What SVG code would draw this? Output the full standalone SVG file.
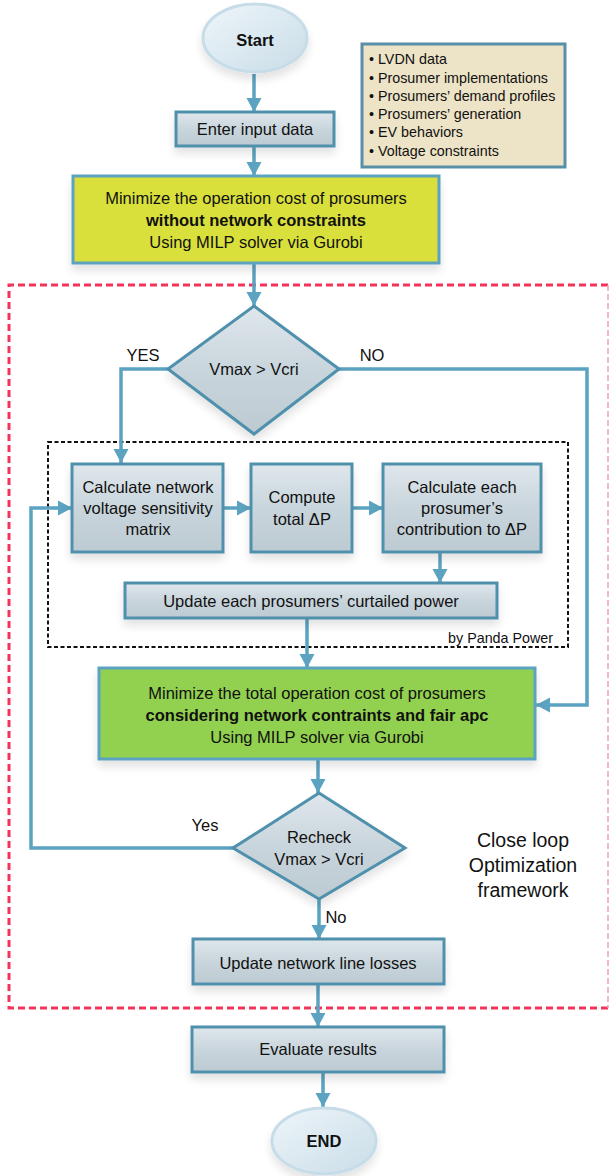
<svg xmlns="http://www.w3.org/2000/svg" width="610" height="1176" viewBox="0 0 610 1176">
<defs>
<linearGradient id="boxg" x1="0" y1="0" x2="0" y2="1">
<stop offset="0" stop-color="#dfe7ec"/><stop offset="0.5" stop-color="#c9d5dc"/><stop offset="1" stop-color="#bccad2"/>
</linearGradient>
<linearGradient id="elg" x1="0" y1="0" x2="1" y2="1">
<stop offset="0" stop-color="#eef5f9"/><stop offset="1" stop-color="#c9dde8"/>
</linearGradient>
<filter id="sh" x="-20%" y="-20%" width="140%" height="160%">
<feGaussianBlur in="SourceAlpha" stdDeviation="5"/>
<feOffset dx="0" dy="6" result="b"/>
<feComponentTransfer><feFuncA type="linear" slope="0.12"/></feComponentTransfer>
<feMerge><feMergeNode/><feMergeNode in="SourceGraphic"/></feMerge>
</filter>
<marker id="ah" markerUnits="userSpaceOnUse" markerWidth="16" markerHeight="16" refX="14" refY="8" orient="auto">
<path d="M0,0.5 L14,8 L0,15.5 z" fill="#5ba3c1"/>
</marker>
</defs>
<style>
.box{fill:url(#boxg);stroke:#4f90ac;stroke-width:3}
.el{fill:url(#elg);stroke:#c6dce8;stroke-width:3}
.t{font-family:"Liberation Sans",Arial,sans-serif;font-size:16.5px;fill:#111;text-anchor:middle}
.b{font-weight:bold}
.s{font-size:14.3px}
.l{font-size:19.5px}
.st{text-anchor:start}
.en{text-anchor:end}
.c{fill:none;stroke:#5ba3c1;stroke-width:3.5}
.ca{fill:none;stroke:#5ba3c1;stroke-width:3.5;marker-end:url(#ah)}
</style>

<!-- frames -->
<g id="closeloop-frame">
<path d="M608,285 L9,285 L9,1008 L608,1008" fill="none" stroke="#f2345a" stroke-width="3" stroke-dasharray="7,4"/>
<line x1="608" y1="285" x2="608" y2="1008" stroke="#f2a3b3" stroke-width="1.5" stroke-dasharray="6,3"/>
</g>
<g id="panda-frame">
<rect x="48" y="442" width="520" height="205" fill="none" stroke="#111" stroke-width="2" stroke-dasharray="4,2.5"/>
<text class="t s en" x="553" y="643">by Panda Power</text>
</g>

<!-- connectors -->
<g id="connectors">
<line class="ca" x1="254" y1="74" x2="254" y2="112"/>
<line class="ca" x1="254" y1="147" x2="254" y2="176"/>
<line class="ca" x1="254" y1="263" x2="254" y2="306"/>
<polyline class="ca" points="168,369 121,369 121,463"/>
<polyline class="ca" points="339,369 587,369 587,705 536,705"/>
<line class="ca" x1="224" y1="508" x2="251" y2="508"/>
<line class="ca" x1="353" y1="508" x2="383" y2="508"/>
<line class="ca" x1="440" y1="553" x2="440" y2="583"/>
<line class="ca" x1="307" y1="619" x2="307" y2="668"/>
<line class="ca" x1="318" y1="760" x2="318" y2="793"/>
<polyline class="ca" points="233,848 31,848 31,508 72,508"/>
<line class="ca" x1="319" y1="899" x2="319" y2="939"/>
<line class="ca" x1="318" y1="985" x2="318" y2="1027"/>
<line class="ca" x1="323" y1="1073" x2="323" y2="1107"/>
<text class="t" x="143" y="361">YES</text>
<text class="t" x="372" y="361">NO</text>
<text class="t" x="205" y="831">Yes</text>
<text class="t" x="336" y="923">No</text>
</g>

<g id="start">
<ellipse class="el" cx="255" cy="38" rx="52" ry="34" filter="url(#sh)"/>
<text class="t b" x="255" y="46">Start</text>
</g>

<g id="enter-input">
<rect class="box" x="176" y="112" width="158" height="34" filter="url(#sh)"/>
<text class="t" x="255" y="135">Enter input data</text>
</g>

<g id="inputs-list">
<rect x="362" y="44" width="203" height="123" fill="#ede3c6" stroke="#5a8fa8" stroke-width="3"/>
<text class="t s st" x="369" y="64">• LVDN data</text>
<text class="t s st" x="369" y="83">• Prosumer implementations</text>
<text class="t s st" x="369" y="101">• Prosumers’ demand profiles</text>
<text class="t s st" x="369" y="119">• Prosumers’ generation</text>
<text class="t s st" x="369" y="137">• EV behaviors</text>
<text class="t s st" x="369" y="156">• Voltage constraints</text>
</g>

<g id="minimize-unconstrained">
<rect x="73" y="176" width="366" height="87" fill="#d9e03b" stroke="#5ba3c1" stroke-width="3" filter="url(#sh)"/>
<text class="t" x="256" y="204">Minimize the operation cost of prosumers</text>
<text class="t b" x="256" y="226">without network constraints</text>
<text class="t" x="256" y="248">Using MILP solver via Gurobi</text>
</g>

<g id="check-voltage">
<polygon class="box" points="254,306 339,369 254,434 168,369" filter="url(#sh)"/>
<text class="t" x="254" y="375">Vmax &gt; Vcri</text>
</g>

<g id="calc-sensitivity">
<rect class="box" x="72" y="464" width="151" height="88" filter="url(#sh)"/>
<text class="t" x="148" y="493">Calculate network</text>
<text class="t" x="148" y="514">voltage sensitivity</text>
<text class="t" x="148" y="535">matrix</text>
</g>

<g id="compute-deltaP">
<rect class="box" x="251" y="464" width="101" height="88" filter="url(#sh)"/>
<text class="t" x="302" y="503">Compute</text>
<text class="t" x="302" y="525">total ΔP</text>
</g>

<g id="calc-contribution">
<rect class="box" x="383" y="464" width="158" height="88" filter="url(#sh)"/>
<text class="t" x="462" y="493">Calculate each</text>
<text class="t" x="462" y="514">prosumer’s</text>
<text class="t" x="462" y="535">contribution to ΔP</text>
</g>

<g id="update-curtailed">
<rect class="box" x="125" y="583" width="372" height="35" filter="url(#sh)"/>
<text class="t" x="311" y="607">Update each prosumers’ curtailed power</text>
</g>

<g id="minimize-constrained">
<rect x="99" y="668" width="436" height="91" fill="#92d050" stroke="#5ba3c1" stroke-width="3" filter="url(#sh)"/>
<text class="t" x="317" y="699">Minimize the total operation cost of prosumers</text>
<text class="t b" x="317" y="721">considering network contraints and fair apc</text>
<text class="t" x="317" y="743">Using MILP solver via Gurobi</text>
</g>

<g id="recheck-voltage">
<polygon class="box" points="319,793 405,848 319,899 233,848" filter="url(#sh)"/>
<text class="t" x="319" y="843">Recheck</text>
<text class="t" x="319" y="865">Vmax &gt; Vcri</text>
</g>

<g id="loop-label">
<text class="t l" x="523" y="847">Close loop</text>
<text class="t l" x="523" y="872">Optimization</text>
<text class="t l" x="523" y="897">framework</text>
</g>

<g id="update-losses">
<rect class="box" x="193" y="939" width="251" height="45" filter="url(#sh)"/>
<text class="t" x="318" y="969">Update network line losses</text>
</g>

<g id="evaluate">
<rect class="box" x="192" y="1027" width="252" height="45" filter="url(#sh)"/>
<text class="t" x="318" y="1055">Evaluate results</text>
</g>

<g id="end">
<ellipse class="el" cx="324" cy="1141" rx="52" ry="33" filter="url(#sh)"/>
<text class="t b" x="324" y="1147">END</text>
</g>
</svg>
